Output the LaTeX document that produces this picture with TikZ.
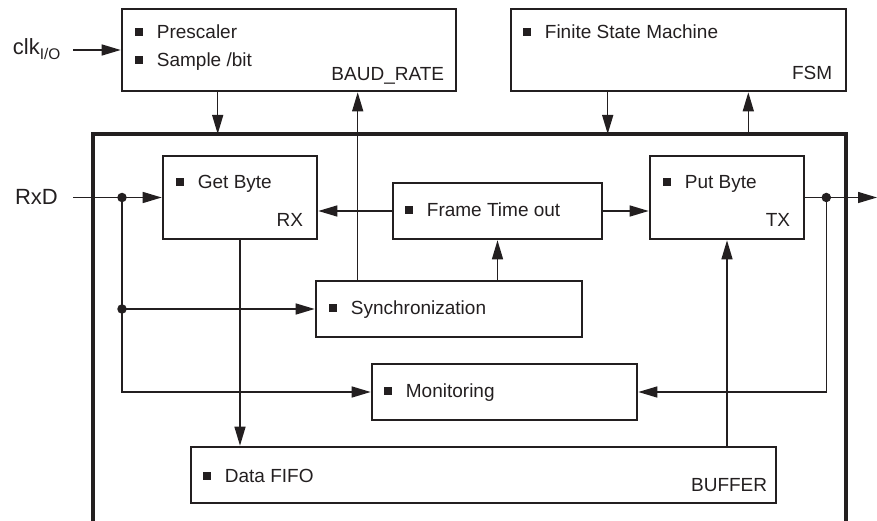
\documentclass[tikz,border=0pt]{standalone}
\usepackage{fontspec}
\setmainfont{Liberation Sans}
\usetikzlibrary{arrows.meta,calc}
\definecolor{ink}{HTML}{231F20}
\newcommand{\bsq}{\rule[3pt]{8pt}{8pt}\hspace{14pt}}
\tikzset{
  blk/.style={draw=ink, line width=2.6pt, inner sep=0pt},
  item/.style={anchor=base west, inner sep=0pt, text=ink, font=\fontsize{19}{22}\selectfont},
  tag/.style={anchor=base east, inner sep=0pt, text=ink, font=\fontsize{19}{22}\selectfont},
  pin/.style={anchor=base east, inner sep=0pt, text=ink, font=\fontsize{22}{26}\selectfont},
  wire/.style={draw=ink, line width=1.4pt},
  arr/.style={wire, -{Triangle[length=19pt,width=11pt]}},
  jn/.style={circle, fill=ink, inner sep=0pt, minimum size=9.5pt},
}
\begin{document}
\begin{tikzpicture}[x=1pt, y=-1pt]
  \useasboundingbox (0,0) rectangle (877,521);
  % outer block, open at the bottom
  \coordinate (otl) at (93,134);
  \coordinate (otr) at (846,134);
  \draw[ink, line width=3.2pt] (93,522) -- (otl) -- (otr) -- (846,522);

  % blocks
  \node[blk, minimum width=334pt, minimum height=82pt] (baud) at (289,50) {};
  \node[blk, minimum width=335pt, minimum height=82pt] (fsm) at (678.5,50) {};
  \node[blk, minimum width=154pt, minimum height=83pt] (getb) at (240,197.5) {};
  \node[blk, minimum width=209pt, minimum height=56pt] (frame) at (497.5,211) {};
  \node[blk, minimum width=154pt, minimum height=83pt] (putb) at (727,197.5) {};
  \node[blk, minimum width=266pt, minimum height=56pt] (sync) at (449,309) {};
  \node[blk, minimum width=265pt, minimum height=56pt] (mon) at (504.5,392) {};
  \node[blk, minimum width=585pt, minimum height=56pt] (fifo) at (483.5,475) {};

  % texts in the blocks
  \node[item] (pres) at ([xshift=14pt,yshift=-31pt]baud.north west) {\bsq Prescaler};
  \node[item] (samp) at ([xshift=14pt,yshift=-59pt]baud.north west) {\bsq Sample /bit};
  \node[tag] (baudt) at ([xshift=-13pt,yshift=12pt]baud.south east) {BAUD\_RATE};
  \node[item] (fsmi) at ([xshift=13pt,yshift=-31pt]fsm.north west) {\bsq Finite State Machine};
  \node[tag] (fsmt) at ([xshift=-15pt,yshift=13pt]fsm.south east) {FSM};
  \node[item] (getbi) at ([xshift=14pt,yshift=-34pt]getb.north west) {\bsq Get Byte};
  \node[tag] (getbt) at ([xshift=-15pt,yshift=14pt]getb.south east) {RX};
  \node[item] (framei) at ([xshift=13pt,yshift=-35pt]frame.north west) {\bsq Frame Time out};
  \node[item] (putbi) at ([xshift=14pt,yshift=-34pt]putb.north west) {\bsq Put Byte};
  \node[tag] (putbt) at ([xshift=-15pt,yshift=14pt]putb.south east) {TX};
  \node[item] (synci) at ([xshift=14pt,yshift=-35pt]sync.north west) {\bsq Synchronization};
  \node[item] (moni) at ([xshift=13pt,yshift=-35pt]mon.north west) {\bsq Monitoring};
  \node[item] (fifoi) at ([xshift=13pt,yshift=-37pt]fifo.north west) {\bsq Data FIFO};
  \node[tag] (fifot) at ([xshift=-10pt,yshift=13pt]fifo.south east) {BUFFER};

  % pins
  \node[pin] (clk) at (61,55) {clk\textsubscript{I/O}};
  \node[pin] (rxd) at (58,205) {RxD};
  \coordinate (clkin) at (73,50);
  \coordinate (rxin) at (73,197.5);
  \coordinate (txout) at (877,197.5);

  % junctions
  \node[jn] (rxj) at (122,197.5) {};
  \node[jn] (syj) at (rxj |- sync.west) {};
  \node[jn] (txj) at ([xshift=21pt]putb.east) {};

  % taps on the top blocks
  \coordinate (bdn) at ([xshift=97pt]baud.south west);
  \coordinate (bup) at ([xshift=43pt]sync.north west);
  \coordinate (fdn) at ([xshift=98pt]fsm.south west);
  \coordinate (fup) at ([xshift=-99pt]fsm.south east);

  % connectors
  \draw[arr] (clkin) -- (baud.west);
  \draw[arr] (bdn) -- (bdn |- otl);
  \draw[arr] (bup) -- (bup |- baud.south);
  \draw[arr] (fdn) -- (fdn |- otl);
  \draw[arr] (fup |- otl) -- (fup);
  \draw[arr] (rxin) -- (getb.west);
  \draw[arr] (rxj.center) |- (mon.west);
  \draw[arr] (syj.center) -- (sync.west);
  \draw[arr] (frame.west) -- (frame.west -| getb.east);
  \draw[arr] (frame.east) -- (frame.east -| putb.west);
  \draw[arr] (sync.north -| frame.south) -- (frame.south);
  \draw[arr] (getb.south) -- (getb.south |- fifo.north);
  \draw[arr] (fifo.north -| putb.south) -- (putb.south);
  \draw[arr] (putb.east) -- (txout);
  \draw[arr] (txj.center) |- (mon.east);
\end{tikzpicture}
\end{document}
